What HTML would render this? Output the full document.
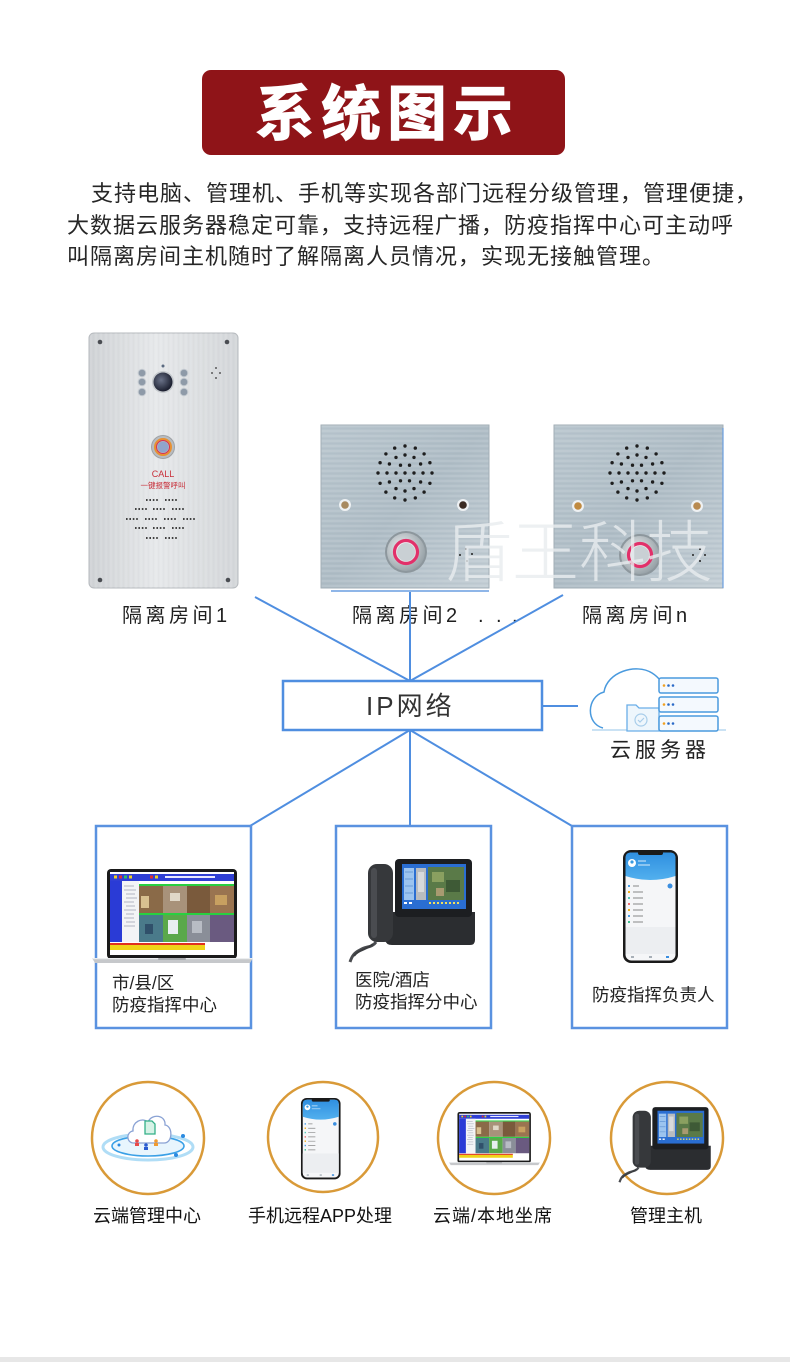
<!DOCTYPE html>
<html><head><meta charset="utf-8"><style>
html,body{margin:0;padding:0;background:#fff;}
body{width:790px;height:1362px;overflow:hidden;}
svg{display:block;}
text{font-family:"Liberation Sans","Noto Sans CJK SC",sans-serif;}
</style></head><body>
<svg width="790" height="1362" viewBox="0 0 790 1362" xmlns="http://www.w3.org/2000/svg">
<defs>
  <linearGradient id="gTall" x1="0" y1="0" x2="1" y2="0">
    <stop offset="0" stop-color="#cfd2d5"/><stop offset="0.45" stop-color="#e6e8ea"/><stop offset="1" stop-color="#d3d6d9"/>
  </linearGradient>
  <linearGradient id="gSq" x1="0" y1="0" x2="1" y2="1">
    <stop offset="0" stop-color="#b9c6ce"/><stop offset="0.5" stop-color="#aebcc5"/><stop offset="1" stop-color="#c3ced5"/>
  </linearGradient>
  <pattern id="brushV" width="5" height="30" patternUnits="userSpaceOnUse">
    <line x1="1" y1="0" x2="1" y2="30" stroke="#ffffff" stroke-opacity="0.2" stroke-width="0.8"/>
    <line x1="3.5" y1="0" x2="3.5" y2="30" stroke="#9aa0a6" stroke-opacity="0.08" stroke-width="0.6"/>
  </pattern>
  <pattern id="brushH" width="40" height="5" patternUnits="userSpaceOnUse">
    <line x1="0" y1="1" x2="40" y2="1" stroke="#ffffff" stroke-opacity="0.25" stroke-width="0.8"/>
    <line x1="0" y1="3.5" x2="40" y2="3.5" stroke="#7f8e98" stroke-opacity="0.15" stroke-width="0.6"/>
  </pattern>
  <radialGradient id="gBtn" cx="0.4" cy="0.4" r="0.7">
    <stop offset="0" stop-color="#eef1f3"/><stop offset="1" stop-color="#8e999f"/>
  </radialGradient>
  <radialGradient id="gCam" cx="0.4" cy="0.4" r="0.6">
    <stop offset="0" stop-color="#6a7288"/><stop offset="1" stop-color="#1c2030"/>
  </radialGradient>
  <linearGradient id="gHead" x1="0" y1="0" x2="0" y2="1">
    <stop offset="0" stop-color="#2f8fe0"/><stop offset="1" stop-color="#52b0ee"/>
  </linearGradient>
  <g id="spk" fill="#1e1e1e">
    <circle cx="0" cy="0" r="1.7"/>
    <circle cx="9" cy="0" r="1.7"/><circle cx="4.5" cy="7.8" r="1.7"/><circle cx="-4.5" cy="7.8" r="1.7"/><circle cx="-9" cy="0" r="1.7"/><circle cx="-4.5" cy="-7.8" r="1.7"/><circle cx="4.5" cy="-7.8" r="1.7"/>
    <circle cx="18" cy="0" r="1.7"/><circle cx="15.6" cy="9" r="1.7"/><circle cx="9" cy="15.6" r="1.7"/><circle cx="0" cy="18" r="1.7"/><circle cx="-9" cy="15.6" r="1.7"/><circle cx="-15.6" cy="9" r="1.7"/><circle cx="-18" cy="0" r="1.7"/><circle cx="-15.6" cy="-9" r="1.7"/><circle cx="-9" cy="-15.6" r="1.7"/><circle cx="0" cy="-18" r="1.7"/><circle cx="9" cy="-15.6" r="1.7"/><circle cx="15.6" cy="-9" r="1.7"/>
    <circle cx="27" cy="0" r="1.7"/><circle cx="24.9" cy="10.3" r="1.7"/><circle cx="19.1" cy="19.1" r="1.7"/><circle cx="10.3" cy="24.9" r="1.7"/><circle cx="0" cy="27" r="1.7"/><circle cx="-10.3" cy="24.9" r="1.7"/><circle cx="-19.1" cy="19.1" r="1.7"/><circle cx="-24.9" cy="10.3" r="1.7"/><circle cx="-27" cy="0" r="1.7"/><circle cx="-24.9" cy="-10.3" r="1.7"/><circle cx="-19.1" cy="-19.1" r="1.7"/><circle cx="-10.3" cy="-24.9" r="1.7"/><circle cx="0" cy="-27" r="1.7"/><circle cx="10.3" cy="-24.9" r="1.7"/><circle cx="19.1" cy="-19.1" r="1.7"/><circle cx="24.9" cy="-10.3" r="1.7"/>
  </g>
  <g id="sqbtn">
    <circle cx="0" cy="0" r="21" fill="#8d979d"/>
    <circle cx="0" cy="0" r="19" fill="url(#gBtn)"/>
    <circle cx="0" cy="0" r="13" fill="#ffffff" fill-opacity="0.5"/>
    <circle cx="0" cy="0" r="11.5" fill="none" stroke="#e2306a" stroke-width="3.2"/>
    <circle cx="0" cy="0" r="9" fill="#c9d0d4"/>
  </g>
  <g id="laptop">
    <rect x="107" y="869" width="130" height="90" rx="4" fill="#1a1a1a"/>
    <rect x="110" y="872" width="124" height="83" fill="#ffffff"/>
    <rect x="110" y="874" width="124" height="7" fill="#2f3fd4"/>
    <rect x="114" y="875.5" width="3" height="3" fill="#f0d020"/><rect x="119" y="875.5" width="3" height="3" fill="#e03030"/><rect x="124" y="875.5" width="3" height="3" fill="#30c060"/><rect x="129" y="875.5" width="3" height="3" fill="#f0d020"/><rect x="150" y="875.5" width="3" height="3" fill="#e03030"/><rect x="155" y="875.5" width="3" height="3" fill="#f0d020"/>
    <rect x="165" y="876" width="50" height="2" fill="#e8e8ff"/>
    <rect x="110" y="881" width="12" height="61" fill="#2a3bd6"/>
    <rect x="122" y="881" width="17" height="61" fill="#f3f4f6"/>
    <path d="M124 886h10M124 890h12M126 894h9M126 898h11M124 902h10M126 906h9M124 910h12M126 914h8M124 918h10M126 922h9M124 926h11" stroke="#9aa0b0" stroke-width="0.8"/>
    <rect x="139" y="884" width="95" height="2" fill="#28d040"/>
    <rect x="139" y="886" width="24" height="27" fill="#8a6a48"/>
    <rect x="163" y="886" width="24" height="27" fill="#a8927a"/>
    <rect x="187" y="886" width="23" height="27" fill="#7a5a3c"/>
    <rect x="210" y="886" width="24" height="27" fill="#9a7450"/>
    <rect x="141" y="896" width="8" height="12" fill="#d8c090"/><rect x="170" y="893" width="10" height="8" fill="#e0d8c8"/><rect x="215" y="895" width="12" height="10" fill="#c8a060"/>
    <rect x="139" y="913" width="95" height="2" fill="#28d040"/>
    <rect x="139" y="915" width="24" height="27" fill="#4a7a8a"/>
    <rect x="163" y="915" width="24" height="27" fill="#5aa84a"/>
    <rect x="187" y="915" width="23" height="27" fill="#8a8e98"/>
    <rect x="210" y="915" width="24" height="27" fill="#6a5a80"/>
    <rect x="168" y="920" width="10" height="14" fill="#e8eef0"/><rect x="192" y="921" width="10" height="12" fill="#b8bcc4"/><rect x="145" y="924" width="8" height="10" fill="#30506a"/>
    <rect x="110" y="943" width="95" height="2" fill="#e03020"/>
    <rect x="110" y="945" width="95" height="5" fill="#f0d418"/>
    <path d="M92 958 L253 958 L250 963 L95 963 Z" fill="#c6c8cb"/>
    <rect x="92" y="958" width="161" height="1.2" fill="#eceef0"/>
    <rect x="158" y="958" width="28" height="2" rx="1" fill="#a9abae"/>
  </g>
  <g id="deskphone">
    <path d="M385 912 L475 912 L475 940 Q475 945 470 945 L392 945 Q386 945 385 940 Z" fill="#2b2d30"/>
    <rect x="395" y="859" width="77" height="58" rx="4" fill="#1c1e21"/>
    <rect x="402" y="864" width="64" height="45" fill="#2a6ed2"/>
    <rect x="404" y="868" width="10" height="32" fill="#9cc4ef"/>
    <path d="M405 872h8M405 879h8M405 886h8M405 893h8" stroke="#5a8ed0" stroke-width="0.8"/>
    <rect x="416" y="868" width="10" height="32" fill="#b8bcc0"/>
    <rect x="418" y="872" width="6" height="20" fill="#d8dadc"/>
    <rect x="428" y="867" width="36" height="33" fill="#5a7a48"/>
    <rect x="432" y="872" width="12" height="10" fill="#8aa060"/><rect x="446" y="880" width="14" height="12" fill="#3e5a36"/><rect x="436" y="888" width="8" height="8" fill="#a89a70"/>
    <path d="M429 903h2M433 903h2M437 903h2M441 903h2M445 903h2M449 903h2M453 903h2M457 903h2" stroke="#f0e060" stroke-width="2"/>
    <path d="M404 903h3M409 903h3" stroke="#ffffff" stroke-width="2"/>
    <rect x="368" y="864" width="25" height="78" rx="9" fill="#36383b"/>
    <rect x="371" y="868" width="6" height="70" rx="3" fill="#4a4c50"/>
    <path d="M376 942 C372 948 366 946 360 950 C354 953 352 956 350 962" stroke="#4a4c50" stroke-width="3" fill="none"/>
    <path d="M373 944 C366 950 358 950 354 956" stroke="#3a3c3f" stroke-width="2" fill="none"/>
  </g>
  <g id="mobile">
    <rect x="623" y="850" width="55" height="113" rx="8" fill="#1a1a1a"/>
    <rect x="625.5" y="852.5" width="50" height="108" rx="6" fill="#f5f6f8"/>
    <path d="M625.5 858 Q625.5 852.5 631 852.5 L670 852.5 Q675.5 852.5 675.5 858 L675.5 876 Q650 884 625.5 876 Z" fill="url(#gHead)"/>
    <rect x="638" y="851" width="25" height="4" rx="2" fill="#1a1a1a"/>
    <circle cx="632" cy="863" r="4" fill="#ffffff"/><circle cx="632" cy="862" r="1.6" fill="#3a9be0"/>
    <path d="M638 861h8M638 865h12" stroke="#d8ecfa" stroke-width="1"/>
    <g stroke-width="2">
      <path d="M628 886h2" stroke="#4aa0e8"/><path d="M628 892h2" stroke="#f0b020"/><path d="M628 898h2" stroke="#58c8b8"/><path d="M628 904h2" stroke="#f07070"/><path d="M628 910h2" stroke="#f0b020"/><path d="M628 916h2" stroke="#4aa0e8"/><path d="M628 922h2" stroke="#40c090"/>
    </g>
    <path d="M633 886h6M633 892h10M633 898h10M633 904h10M633 910h10M633 916h10M633 922h10" stroke="#888" stroke-width="1"/>
    <circle cx="670" cy="886" r="2.5" fill="#3a8ee0"/>
    <rect x="625.5" y="927" width="50" height="27" fill="#eceef1"/>
    <path d="M631 957h3M649 957h3M666 957h3" stroke="#a8b0b8" stroke-width="2"/>
    <path d="M666 957h3" stroke="#3a8ee0" stroke-width="2"/>
  </g>
</defs>

<rect x="202" y="70" width="363" height="85" rx="9" fill="#8f1418"/>
<text x="255" y="135" font-size="60" font-weight="bold" fill="#ffffff" letter-spacing="6" style="font-family:'Noto Sans CJK SC','WenQuanYi Zen Hei',sans-serif;font-weight:900">系统图示</text>

<g font-size="22" fill="#262626" letter-spacing="1">
  <text x="91" y="201">支持电脑、管理机、手机等实现各部门远程分级管理，管理便捷，</text>
  <text x="67" y="233">大数据云服务器稳定可靠，支持远程广播，防疫指挥中心可主动呼</text>
  <text x="67" y="264">叫隔离房间主机随时了解隔离人员情况，实现无接触管理。</text>
</g>

<rect x="89" y="333" width="149" height="255" rx="5" fill="url(#gTall)" stroke="#b6babe" stroke-width="1"/>
<rect x="89" y="333" width="149" height="255" rx="5" fill="url(#brushV)"/>
<circle cx="100" cy="342" r="2.3" fill="#4a4d52"/><circle cx="227" cy="342" r="2.3" fill="#4a4d52"/>
<circle cx="100" cy="580" r="2.3" fill="#4a4d52"/><circle cx="228" cy="580" r="2.3" fill="#4a4d52"/>
<g fill="#8e9aa8" stroke="#c4cad0" stroke-width="1">
  <circle cx="142" cy="373" r="3.8"/><circle cx="142" cy="382" r="3.8"/><circle cx="142" cy="392" r="3.8"/>
  <circle cx="184" cy="373" r="3.8"/><circle cx="184" cy="382" r="3.8"/><circle cx="184" cy="392" r="3.8"/>
</g>
<circle cx="163" cy="382" r="11" fill="#c4c8cc"/>
<circle cx="163" cy="382" r="9.5" fill="url(#gCam)"/>
<circle cx="163" cy="366" r="1.5" fill="#5a6a80"/>
<g fill="#333"><circle cx="216" cy="368" r="0.9"/><circle cx="212" cy="373" r="0.9"/><circle cx="220" cy="373" r="0.9"/><circle cx="216" cy="378" r="0.9"/></g>
<circle cx="163" cy="447" r="11.5" fill="#b8bcc0" stroke="#9ea2a6" stroke-width="1"/>
<circle cx="163" cy="447" r="8" fill="none" stroke="#e89030" stroke-width="2"/>
<circle cx="163" cy="447" r="6.5" fill="none" stroke="#d83050" stroke-width="1"/>
<circle cx="163" cy="447" r="5.5" fill="#90a4cc"/>
<text x="163" y="477" font-size="9" fill="#c8303a" text-anchor="middle">CALL</text>
<text x="163" y="488" font-size="7.5" fill="#c8303a" text-anchor="middle" style="font-family:'Noto Sans CJK SC',sans-serif">一键报警呼叫</text>
<g stroke="#2a2a2a" stroke-width="1.7" stroke-dasharray="1.6 1.8">
  <path d="M146 500h12M165 500h12"/>
  <path d="M135 509h12M153 509h12M172 509h12"/>
  <path d="M126 519h12M145 519h12M164 519h12M183 519h12"/>
  <path d="M135 528h12M153 528h12M172 528h12"/>
  <path d="M146 538h12M165 538h12"/>
</g>

<rect x="321" y="425" width="168" height="163" fill="url(#gSq)"/>
<rect x="321" y="425" width="168" height="163" fill="url(#brushH)"/>
<rect x="321" y="425" width="168" height="163" fill="none" stroke="#a2aeb6" stroke-width="1"/>
<use href="#spk" x="405" y="473"/>
<circle cx="345" cy="505" r="6" fill="#eef1f3"/><circle cx="345" cy="505" r="3.8" fill="#a88a60"/>
<circle cx="463" cy="505" r="6" fill="#eef1f3"/><circle cx="463" cy="505" r="3.8" fill="#3a2a22"/>
<use href="#sqbtn" x="406" y="552"/>
<g fill="#222"><circle cx="466" cy="549" r="1"/><circle cx="472" cy="554" r="1"/><circle cx="460" cy="555" r="1"/><circle cx="467" cy="561" r="1"/></g>
<line x1="331" y1="591" x2="489" y2="591" stroke="#6a9ee0" stroke-width="1.5"/>

<rect x="554" y="425" width="169" height="163" fill="url(#gSq)"/>
<rect x="554" y="425" width="169" height="163" fill="url(#brushH)"/>
<rect x="554" y="425" width="169" height="163" fill="none" stroke="#a2aeb6" stroke-width="1"/>
<line x1="723" y1="428" x2="723" y2="588" stroke="#6a9ee0" stroke-width="1.2"/>
<use href="#spk" x="637" y="473"/>
<circle cx="578" cy="506" r="6" fill="#eef1f3"/><circle cx="578" cy="506" r="3.8" fill="#c08a40"/>
<circle cx="697" cy="506" r="6" fill="#eef1f3"/><circle cx="697" cy="506" r="3.8" fill="#b88a50"/>
<use href="#sqbtn" x="640" y="555"/>
<g fill="#222"><circle cx="700" cy="549" r="1"/><circle cx="705" cy="555" r="1"/><circle cx="693" cy="555" r="1"/><circle cx="700" cy="561" r="1"/></g>

<text x="445" y="576" font-size="67" fill="#e8ecef" fill-opacity="0.8" style="font-family:'Noto Sans CJK SC',sans-serif;font-weight:300">盾王科技</text>

<g font-size="20" fill="#1e1e1e" letter-spacing="3.5">
  <text x="122" y="622">隔离房间1</text>
  <text x="352" y="622">隔离房间2</text>
  <text x="582" y="622">隔离房间n</text>
</g>
<g font-size="20" fill="#1e1e1e"><text x="478" y="622">.</text><text x="496" y="622">.</text><text x="512" y="622">.</text></g>

<g stroke="#4f8ee0" stroke-width="2" fill="none">
  <line x1="255" y1="597" x2="410" y2="681"/>
  <line x1="410" y1="592" x2="410" y2="681"/>
  <line x1="563" y1="595" x2="410" y2="681"/>
  <line x1="410" y1="730" x2="250" y2="826"/>
  <line x1="410" y1="730" x2="410" y2="826"/>
  <line x1="410" y1="730" x2="572" y2="826"/>
  <line x1="542" y1="706" x2="578" y2="706"/>
</g>

<rect x="283" y="681" width="259" height="49" fill="#ffffff" stroke="#4f8ee0" stroke-width="2.5"/>
<text x="366" y="715" font-size="26" fill="#333" letter-spacing="3">IP网络</text>

<path d="M603 728 C586 724 586 697 604 692 C607 672 636 663 652 673 C660 678 664 685 666 692" stroke="#4a9ade" stroke-width="1.5" fill="#ffffff"/>
<line x1="592" y1="730" x2="726" y2="730" stroke="#b8d8f0" stroke-width="1.5"/>
<path d="M627 731 L627 705 L636 705 L639 708 L659 708 L659 731 Z" fill="#eef6fc" stroke="#6aaee8" stroke-width="1.3"/>
<circle cx="641" cy="720" r="6" fill="none" stroke="#a8cdea" stroke-width="1.2"/>
<path d="M638 720 l2 2 l4 -4" fill="none" stroke="#a8cdea" stroke-width="1.2"/>
<g fill="#f4f9fe" stroke="#4a9ade" stroke-width="1.5">
  <rect x="659" y="678" width="59" height="15" rx="2"/>
  <rect x="659" y="697" width="59" height="15" rx="2"/>
  <rect x="659" y="716" width="59" height="15" rx="2"/>
</g>
<g>
  <circle cx="664" cy="685.5" r="1.3" fill="#f0a020"/><circle cx="668.5" cy="685.5" r="1.3" fill="#2a6ac8"/><circle cx="673" cy="685.5" r="1.3" fill="#2a6ac8"/>
  <circle cx="664" cy="704.5" r="1.3" fill="#f0a020"/><circle cx="668.5" cy="704.5" r="1.3" fill="#2a6ac8"/><circle cx="673" cy="704.5" r="1.3" fill="#2a6ac8"/>
  <circle cx="664" cy="723.5" r="1.3" fill="#f0a020"/><circle cx="668.5" cy="723.5" r="1.3" fill="#2a6ac8"/><circle cx="673" cy="723.5" r="1.3" fill="#2a6ac8"/>
</g>
<text x="610" y="757" font-size="21" fill="#222" letter-spacing="4">云服务器</text>

<g fill="#ffffff" stroke="#5a92e0" stroke-width="2.5">
  <rect x="96" y="826" width="155" height="202"/>
  <rect x="336" y="826" width="155" height="202"/>
  <rect x="572" y="826" width="155" height="202"/>
</g>
<use href="#laptop"/>
<use href="#deskphone"/>
<use href="#mobile"/>
<g font-size="17.5" fill="#222">
  <text x="112" y="989">市/县/区</text>
  <text x="112" y="1011">防疫指挥中心</text>
  <text x="355" y="986">医院/酒店</text>
  <text x="355" y="1008">防疫指挥分中心</text>
  <text x="592" y="1001">防疫指挥负责人</text>
</g>

<g fill="none" stroke="#d99a38" stroke-width="2.5">
  <circle cx="148" cy="1138" r="56"/>
  <circle cx="323" cy="1137" r="55"/>
  <circle cx="494" cy="1138" r="56"/>
  <circle cx="667" cy="1138" r="56"/>
</g>

<ellipse cx="148" cy="1147" rx="45" ry="13" fill="none" stroke="#7cc6f0" stroke-width="3" stroke-opacity="0.6"/>
<ellipse cx="148" cy="1146" rx="36" ry="10" fill="#e8f5fd" stroke="#3aa0e6" stroke-width="1.6"/>
<path d="M134 1143 C126 1143 126 1132 133 1131 C132 1122 142 1117 148 1122 C152 1113 166 1115 165 1125 C173 1126 173 1143 164 1143 Z" fill="#ffffff" stroke="#8aa2d4" stroke-width="1.3"/>
<path d="M145 1121 L152 1121 L155 1124 L155 1134 L145 1134 Z" fill="#d6f2e6" stroke="#34b088" stroke-width="1.3"/>
<circle cx="137" cy="1141" r="1.8" fill="#e84a4a"/><rect x="135" y="1143" width="4" height="3" fill="#e84a4a"/>
<circle cx="146" cy="1145" r="1.8" fill="#2a5ad0"/><rect x="144" y="1147" width="4" height="3" fill="#2a5ad0"/>
<circle cx="156" cy="1141" r="1.8" fill="#f09a30"/><rect x="154" y="1143" width="4" height="3" fill="#f09a30"/>
<circle cx="183" cy="1136" r="2" fill="#2a8ae0"/><circle cx="176" cy="1155" r="2" fill="#2a8ae0"/><circle cx="119" cy="1145" r="1.5" fill="#2a8ae0"/>

<use href="#mobile" transform="translate(-147.6,486) scale(0.72)"/>
<use href="#laptop" transform="translate(397,621) scale(0.565)"/>
<use href="#deskphone" transform="translate(364,480) scale(0.73)"/>

<g font-size="18" fill="#111">
  <text x="93" y="1222">云端管理中心</text>
  <text x="248" y="1222">手机远程APP处理</text>
  <text x="433" y="1222" letter-spacing="1">云端/本地坐席</text>
  <text x="630" y="1222">管理主机</text>
</g>

<rect x="0" y="1357" width="790" height="5" fill="#e7e7e7"/>
</svg>
</body></html>
